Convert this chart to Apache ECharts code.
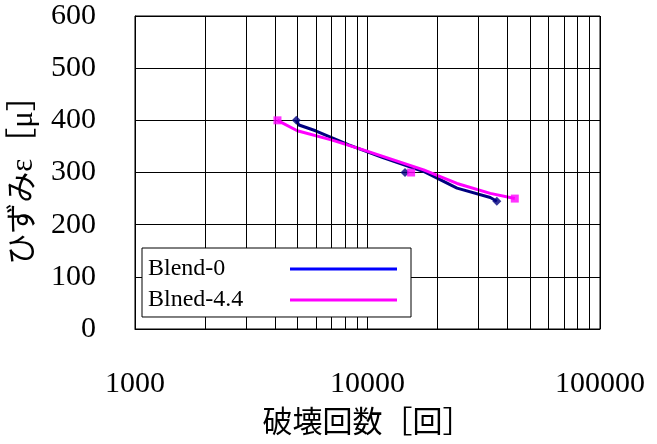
<!DOCTYPE html>
<html>
<head>
<meta charset="utf-8">
<script src="https://cdn.jsdelivr.net/npm/echarts@6/dist/echarts.min.js"></script>
<style>
  html, body { margin: 0; padding: 0; background: #fff; }
  #chart { width: 657px; height: 444px; }
</style>
</head>
<body>
<div id="chart"></div>
<script>
// Series names as shown in the legend
const seriesNames = ['Blend-0', 'Blned-4.4'];

// Test points: [cycles to failure, strain (μ)]
const blend0Points = [[4940, 400], [14500, 300], [36000, 245]];
const blned44Points = [[4100, 400], [15400, 300], [43000, 250]];

// Fitted curves through each data set
const blend0Curve = [[4940, 400], [5070, 391], [5980, 380], [8310, 353], [11560, 329],
                     [17440, 302], [24270, 270], [33730, 252], [36000, 245]];
const blned44Curve = [[4100, 400], [4990, 380], [7050, 362], [9800, 342], [17440, 305],
                      [24270, 279], [33730, 260], [43000, 250]];

// Axis ranges and grid values
const xRange = [1000, 100000];
const xMinorGrid = [2000, 3000, 4000, 5000, 6000, 7000, 8000, 9000,
                    20000, 30000, 40000, 50000, 60000, 70000, 80000, 90000];
const yRange = [0, 600];
const yStep = 100;

const serif = "'Liberation Serif', 'Times New Roman', 'Noto Sans CJK JP', serif";

const chart = echarts.init(document.getElementById('chart'), null, { renderer: 'canvas' });

chart.setOption({
  animation: false,
  backgroundColor: '#fff',
  grid: {
    left: 134, right: 57, top: 16, bottom: 115,
    show: true, borderColor: '#000', borderWidth: 1, backgroundColor: 'transparent'
  },
  xAxis: {
    type: 'log',
    logBase: 10,
    min: xRange[0],
    max: xRange[1],
    name: '破壊回数［回］',
    nameLocation: 'middle',
    nameGap: 80,
    nameTextStyle: { fontFamily: serif, fontSize: 30, color: '#000' },
    axisLine: { show: true, lineStyle: { color: '#000', width: 1 } },
    axisTick: { show: false },
    axisLabel: {
      margin: 40,
      fontFamily: serif, fontSize: 30, color: '#000',
      formatter: v => String(Math.round(v))
    },
    splitLine: { show: true, lineStyle: { color: '#000', width: 1 } }
  },
  yAxis: {
    type: 'value',
    min: yRange[0],
    max: yRange[1],
    interval: yStep,
    name: 'ひずみε［μ］',
    nameLocation: 'middle',
    nameGap: 96,
    nameRotate: 90,
    nameTextStyle: { fontFamily: serif, fontSize: 31, color: '#000' },
    axisLine: { show: true, lineStyle: { color: '#000', width: 1 } },
    axisTick: { show: false },
    axisLabel: { margin: 39, fontFamily: serif, fontSize: 30, color: '#000' },
    splitLine: { show: true, lineStyle: { color: '#000', width: 1 } }
  },
  legend: {
    data: [
      { name: seriesNames[0], itemStyle: { color: '#0000ff' } },
      { name: seriesNames[1], itemStyle: { color: '#ff00ff' } }
    ],
    orient: 'vertical',
    left: 142,
    top: 248,
    align: 'right',
    icon: 'rect',
    itemWidth: 107,
    itemHeight: 3,
    itemGap: 7,
    padding: [9, 14, 5, 6],
    borderColor: '#000',
    borderWidth: 1,
    backgroundColor: '#fff',
    selectedMode: false,
    formatter: '{t|{name}}',
    textStyle: {
      color: '#000', fontFamily: serif, fontSize: 24,
      rich: { t: { width: 137, align: 'left', fontFamily: serif, fontSize: 24, lineHeight: 24, color: '#000' } }
    },
    z: 10
  },
  series: [
    {
      // minor vertical grid lines of the logarithmic axis
      name: 'minor-grid',
      type: 'line',
      data: [],
      z: 1,
      silent: true,
      markLine: {
        silent: true,
        symbol: ['none', 'none'],
        label: { show: false },
        lineStyle: { color: '#000', width: 1, type: 'solid' },
        emphasis: { disabled: true },
        data: xMinorGrid.map(v => ({ xAxis: v }))
      }
    },
    {
      name: seriesNames[0],
      type: 'line',
      data: blend0Curve,
      showSymbol: false,
      symbol: 'none',
      lineStyle: { color: '#000080', width: 3 },
      itemStyle: { color: '#000080' },
      z: 3
    },
    {
      name: seriesNames[1],
      type: 'line',
      data: blned44Curve,
      showSymbol: false,
      symbol: 'none',
      lineStyle: { color: '#ff00ff', width: 3 },
      itemStyle: { color: '#ff00ff' },
      z: 4
    },
    {
      name: seriesNames[0] + ' points',
      type: 'scatter',
      data: blend0Points,
      symbol: 'diamond',
      symbolSize: 9,
      itemStyle: { color: '#000080' },
      z: 5
    },
    {
      name: seriesNames[1] + ' points',
      type: 'scatter',
      data: blned44Points,
      symbol: 'rect',
      symbolSize: 8,
      itemStyle: { color: '#ff00ff' },
      z: 6
    }
  ]
});
</script>
</body>
</html>
